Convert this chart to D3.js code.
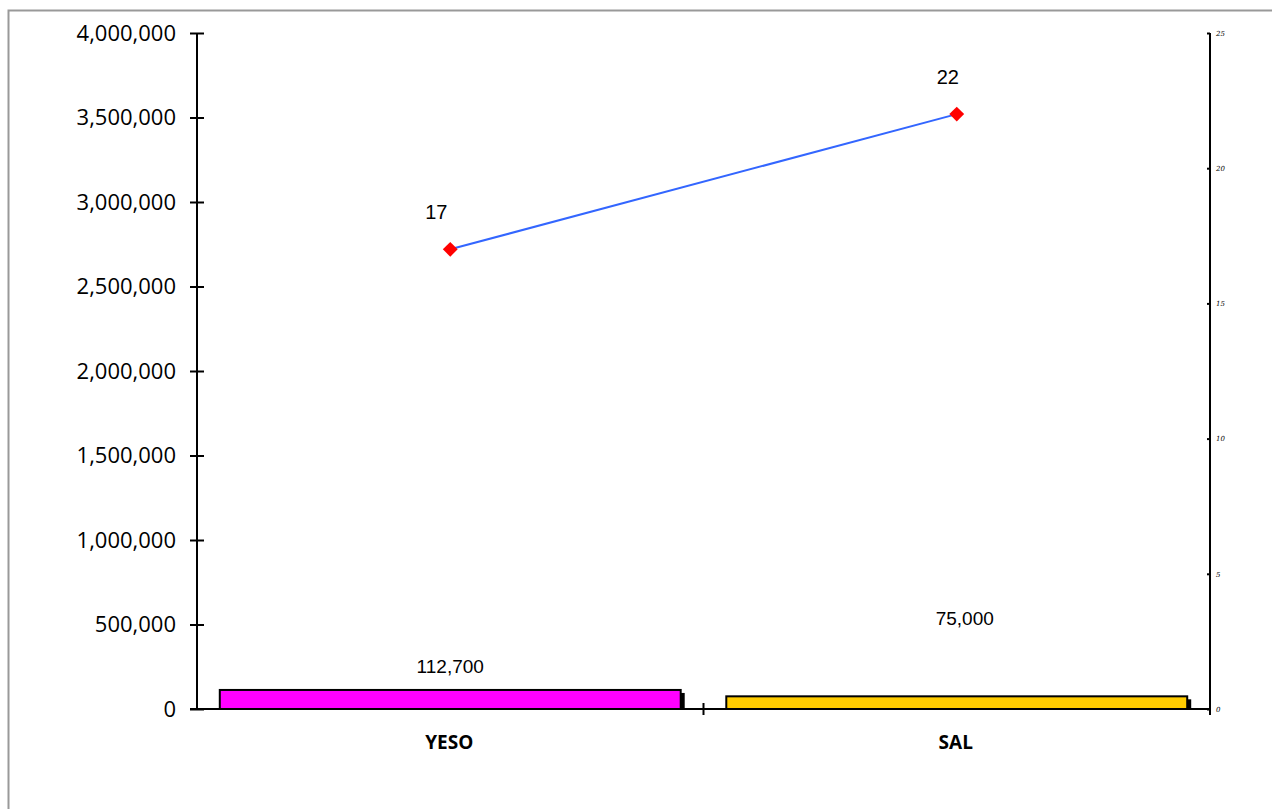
<!DOCTYPE html>
<html>
<head>
<meta charset="utf-8">
<script src="https://cdn.jsdelivr.net/npm/d3@7"></script>
<style>
  body { margin: 0; background: #fff; }
  svg { display: block; }
</style>
</head>
<body>
<div id="chart"></div>
<script>
// data
const categories = ["YESO", "SAL"];
const barValues = [112700, 75000];
const barColors = ["#ff00ff", "#ffcc00"];
const lineValues = [17, 22];
const leftTicks = [0, 500000, 1000000, 1500000, 2000000, 2500000, 3000000, 3500000, 4000000];
const rightTicks = [0, 5, 10, 15, 20, 25];

const W = 1272, H = 809;
const margin = {top: 33, right: 62, bottom: 100, left: 197};
const width = W - margin.left - margin.right;
const height = H - margin.top - margin.bottom;

const svg = d3.select("#chart").append("svg")
    .attr("width", W)
    .attr("height", H);

// outer frame
svg.append("rect")
    .attr("x", 8.5).attr("y", 10.5)
    .attr("width", W).attr("height", H)
    .attr("fill", "none")
    .attr("stroke", "#999")
    .attr("stroke-width", 2);

const g = svg.append("g")
    .attr("transform", "translate(" + margin.left + "," + margin.top + ")");

// scales
const x = d3.scaleBand()
    .domain(categories)
    .range([0, width])
    .paddingInner(0.09)
    .paddingOuter(0.045);

const xc = d3.scaleBand().domain(categories).range([0, width]);
const mid = d => xc(d) + xc.bandwidth() / 2;

const y = d3.scaleLinear().domain([0, 4000000]).range([height, 0]);
const y2 = d3.scaleLinear().domain([0, 25]).range([height, 0]);

// bars: shadow then bar
g.selectAll(".shadow")
    .data(barValues)
    .enter().append("rect")
    .attr("class", "shadow")
    .attr("x", (d, i) => x(categories[i]) + 4)
    .attr("y", d => y(d) + 3)
    .attr("width", x.bandwidth())
    .attr("height", d => height - y(d) - 3)
    .attr("fill", "#000");

g.selectAll(".bar")
    .data(barValues)
    .enter().append("rect")
    .attr("class", "bar")
    .attr("x", (d, i) => x(categories[i]))
    .attr("y", d => y(d))
    .attr("width", x.bandwidth())
    .attr("height", d => height - y(d))
    .attr("fill", (d, i) => barColors[i])
    .attr("stroke", "#000")
    .attr("stroke-width", 2);

// bar labels
const barLabelDx = [0, 8];
const barLabelY = [y(barValues[0]) - 17, y(barValues[0]) - 65];
g.selectAll(".bar-label")
    .data(barValues)
    .enter().append("text")
    .attr("class", "bar-label")
    .attr("x", (d, i) => mid(categories[i]) + barLabelDx[i])
    .attr("y", (d, i) => barLabelY[i])
    .attr("text-anchor", "middle")
    .style("font-family", "'Liberation Sans', Arial, sans-serif")
    .style("font-size", "19px")
    .text(d => d3.format(",")(d));

// axes
const yAxis = d3.axisLeft(y).tickValues(leftTicks).tickFormat(d3.format(",")).tickSize(7).tickPadding(14);
const yAxisG = g.append("g").call(yAxis);
yAxisG.selectAll(".tick line").attr("x2", -7).attr("x1", 7);
yAxisG.select(".domain").attr("d", "M0,0V" + height);
yAxisG.selectAll("path, line").attr("stroke", "#000").attr("stroke-width", 2);
yAxisG.selectAll("text")
    .style("font-family", "'Open Sans', 'DejaVu Sans', sans-serif")
    .style("font-size", "22px")
    .attr("fill", "#000");

const y2Axis = d3.axisRight(y2).tickValues(rightTicks).tickSize(0).tickPadding(6);
const y2G = g.append("g").attr("transform", "translate(" + width + ",0)").call(y2Axis);
y2G.select(".domain").attr("d", "M0,0V" + (height + 6));
y2G.selectAll(".tick line").attr("x1", -3).attr("x2", 0);
y2G.selectAll("path, line").attr("stroke", "#000").attr("stroke-width", 2);
y2G.selectAll("text")
    .style("font-family", "'DejaVu Serif', serif")
    .style("font-style", "italic")
    .style("font-size", "7px")
    .attr("fill", "#000");

// category axis
const xAxisG = g.append("g").attr("transform", "translate(0," + height + ")");
xAxisG.append("line")
    .attr("x1", -7).attr("x2", width)
    .attr("stroke", "#000").attr("stroke-width", 2);
xAxisG.append("line")
    .attr("x1", xc("SAL")).attr("x2", xc("SAL"))
    .attr("y1", -6).attr("y2", 6)
    .attr("stroke", "#000").attr("stroke-width", 2);
xAxisG.selectAll(".cat")
    .data(categories)
    .enter().append("text")
    .attr("class", "cat")
    .attr("x", d => mid(d) - 1)
    .attr("y", 40)
    .attr("text-anchor", "middle")
    .style("font-family", "'Open Sans', 'DejaVu Sans', sans-serif")
    .style("font-weight", "bold")
    .style("font-size", "19px")
    .text(d => d);

// line series
const lx = (d, i) => mid(categories[i]);
const line = d3.line()
    .x((d, i) => lx(d, i))
    .y(d => y2(d));

g.append("path")
    .datum(lineValues)
    .attr("d", line)
    .attr("fill", "none")
    .attr("stroke", "#3366ff")
    .attr("stroke-width", 2);

g.selectAll(".pt")
    .data(lineValues)
    .enter().append("path")
    .attr("class", "pt")
    .attr("d", d3.symbol(d3.symbolSquare, 110))
    .attr("transform", (d, i) => "translate(" + lx(d, i) + "," + y2(d) + ") rotate(45)")
    .attr("fill", "#ff0000");

const ptLabelDx = [-14, -9];
g.selectAll(".pt-label")
    .data(lineValues)
    .enter().append("text")
    .attr("class", "pt-label")
    .attr("x", (d, i) => lx(d, i) + ptLabelDx[i])
    .attr("y", d => y2(d) - 30)
    .attr("text-anchor", "middle")
    .style("font-family", "'Liberation Sans', Arial, sans-serif")
    .style("font-size", "20px")
    .text(d => d);
</script>
</body>
</html>
